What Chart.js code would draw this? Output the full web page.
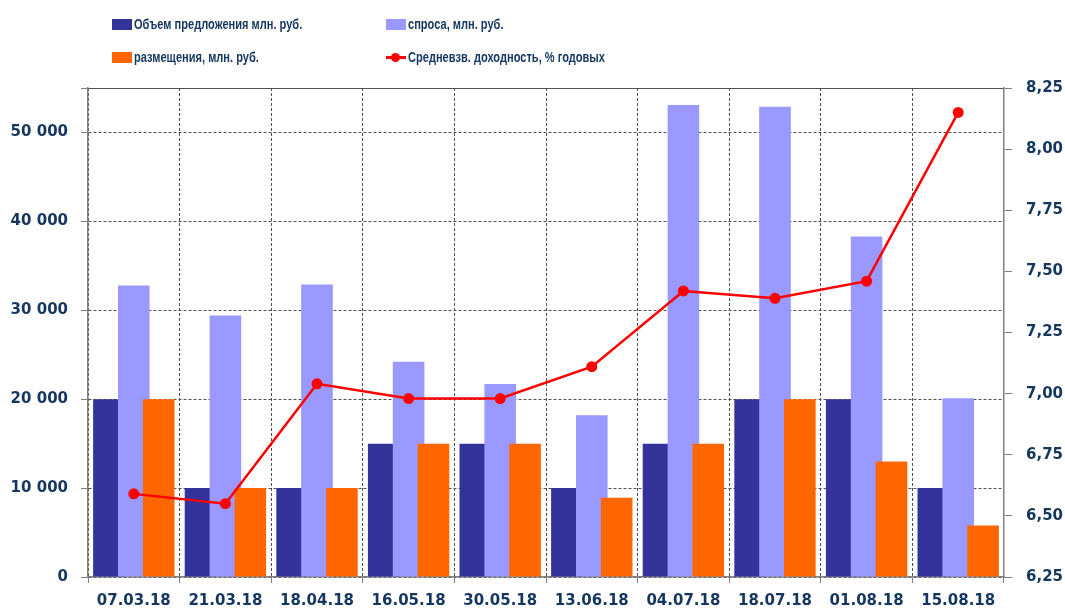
<!DOCTYPE html>
<html lang="ru">
<head>
<meta charset="utf-8">
<title>Аукционы</title>
<script src="https://cdn.jsdelivr.net/npm/chart.js@4.4.1/dist/chart.umd.min.js"></script>
<style>
    body { margin: 0; background: #fff; }
    #wrap { position: relative; width: 1065px; height: 613px; }
    #legend {
        position: absolute; left: 112px; top: 16px;
        display: grid; grid-template-columns: 274px auto; row-gap: 17px;
        font: bold 14px "Liberation Sans", Arial, sans-serif;
        color: #14365f;
    }
    .item { display: flex; align-items: center; height: 16px; white-space: nowrap; }
    .item span { display: inline-block; transform: scaleX(0.79); transform-origin: left center; }
    .swatch { position: relative; width: 20px; height: 11px; margin-right: 2px; flex: none; }
    .dot { position: absolute; left: 5px; top: 1px; width: 9px; height: 9px; border-radius: 50%; }
</style>
</head>
<body>
<div id="wrap">
    <canvas id="chart" width="1065" height="613"></canvas>
    <div id="legend"></div>
</div>
<script>
const labels = ['07.03.18', '21.03.18', '18.04.18', '16.05.18', '30.05.18', '13.06.18', '04.07.18', '18.07.18', '01.08.18', '15.08.18'];
const offerVolume = [20000, 10000, 10000, 15000, 15000, 10000, 15000, 20000, 20000, 10000];
const demand = [32800, 29400, 32900, 24200, 21700, 18200, 53100, 52900, 38300, 20100];
const placement = [20000, 10000, 10000, 15000, 15000, 8900, 15000, 20000, 13000, 5800];
const yieldAvg = [6.59, 6.55, 7.04, 6.98, 6.98, 7.11, 7.42, 7.39, 7.46, 8.15];

// подписанные деления левой оси; сверху ось продолжается до leftMax без подписи
const leftTicks = [0, 10000, 20000, 30000, 40000, 50000];
const leftMax = 55000;
const rightMin = 6.25, rightMax = 8.25, rightStep = 0.25;

const textColor = '#14365f';
const gridColor = '#505050';
const axisColor = '#808080';
const tickFont = { family: '"DejaVu Sans", sans-serif', size: 15, weight: 'bold' };

function fmtThousands(v) {
    return String(Math.round(v)).replace(/\B(?=(\d{3})+(?!\d))/g, ' ');
}

// рисуем наборы по порядку: правый столбик поверх левого, линия поверх всех
const drawInOrder = {
    id: 'drawInOrder',
    beforeDatasetsDraw(chart) {
        chart.getSortedVisibleDatasetMetas().forEach(meta => meta.controller.draw());
        return false;
    }
};

// легенда в две колонки, как в оригинале
const htmlLegend = {
    id: 'htmlLegend',
    afterUpdate(chart) {
        const box = document.getElementById('legend');
        box.innerHTML = '';
        chart.data.datasets.forEach(ds => {
            const item = document.createElement('div');
            item.className = 'item';
            const sw = document.createElement('div');
            sw.className = 'swatch';
            if (ds.type === 'line') {
                sw.style.background = 'linear-gradient(' + ds.borderColor + ',' + ds.borderColor + ') center / 100% 3px no-repeat';
                const dot = document.createElement('div');
                dot.className = 'dot';
                dot.style.background = ds.borderColor;
                sw.appendChild(dot);
            } else {
                sw.style.background = ds.backgroundColor;
            }
            const txt = document.createElement('span');
            txt.textContent = ds.label;
            item.appendChild(sw);
            item.appendChild(txt);
            box.appendChild(item);
        });
    }
};

const ctx = document.getElementById('chart').getContext('2d');
new Chart(ctx, {
    type: 'bar',
    data: {
        labels: labels,
        datasets: [{
            label: 'Объем предложения млн. руб.',
            data: offerVolume,
            backgroundColor: '#333399',
            yAxisID: 'y'
        }, {
            label: 'спроса, млн. руб.',
            data: demand,
            backgroundColor: '#9999ff',
            yAxisID: 'y'
        }, {
            label: 'размещения, млн. руб.',
            data: placement,
            backgroundColor: '#ff6600',
            yAxisID: 'y'
        }, {
            type: 'line',
            label: 'Средневзв. доходность, % годовых',
            data: yieldAvg,
            yAxisID: 'y1',
            borderColor: '#ff0000',
            backgroundColor: '#ff0000',
            borderWidth: 2.5,
            pointRadius: 5.5,
            pointHoverRadius: 5.5,
            pointBorderWidth: 0,
            tension: 0
        }]
    },
    options: {
        responsive: false,
        animation: false,
        datasets: {
            bar: { categoryPercentage: 0.815, barPercentage: 1.27 }
        },
        layout: { padding: { top: 88, right: 0, bottom: 0, left: 0 } },
        plugins: {
            legend: { display: false },
            tooltip: { enabled: false }
        },
        scales: {
            x: {
                grid: { offset: true, color: gridColor, tickColor: axisColor, tickLength: 6 },
                border: { color: axisColor, width: 1.5, dash: [3, 2] },
                ticks: { color: textColor, font: tickFont, padding: 9, maxRotation: 0, autoSkip: false },
                afterFit(s) { s.height = 36; }
            },
            y: {
                position: 'left',
                min: leftTicks[0],
                max: leftMax,
                grid: { color: gridColor, tickColor: axisColor, tickLength: 7 },
                border: {
                    color: axisColor,
                    width: 1.5,
                    dash: c => (c.tick && c.tick.value === leftMax) ? [] : [3, 2]
                },
                afterBuildTicks(s) {
                    s.ticks = leftTicks.concat([leftMax]).map(v => ({ value: v }));
                },
                ticks: {
                    color: textColor,
                    font: tickFont,
                    padding: 13,
                    callback: v => leftTicks.includes(v) ? fmtThousands(v) : ''
                },
                afterFit(s) { s.width = 88; }
            },
            y1: {
                position: 'right',
                min: rightMin,
                max: rightMax,
                grid: { drawOnChartArea: false, tickColor: axisColor, tickLength: 8 },
                border: { color: axisColor, width: 1.5 },
                ticks: {
                    stepSize: rightStep,
                    color: textColor,
                    font: tickFont,
                    padding: 14,
                    callback: v => v.toFixed(2).replace('.', ',')
                },
                afterFit(s) { s.width = 61; }
            }
        }
    },
    plugins: [drawInOrder, htmlLegend]
});
</script>
</body>
</html>
